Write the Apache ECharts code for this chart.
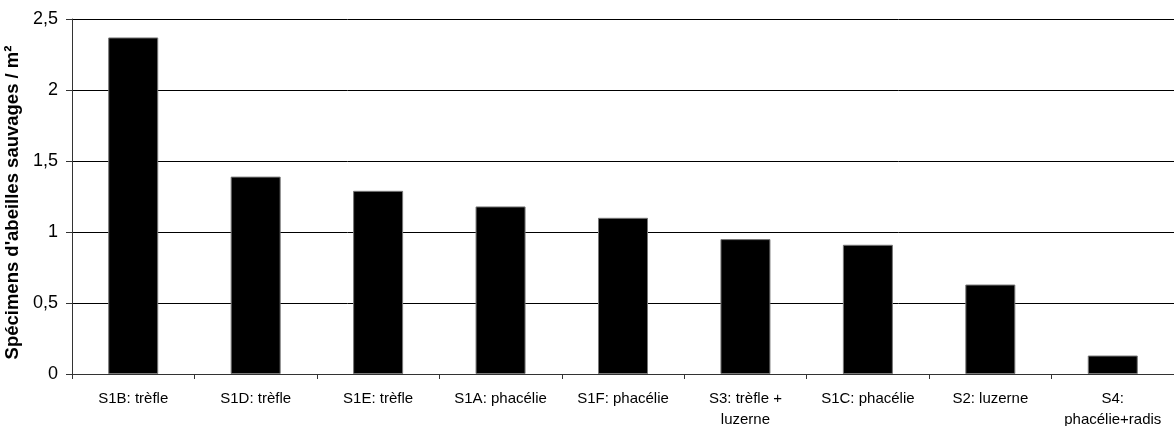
<!DOCTYPE html>
<html><head><meta charset="utf-8">
<script src="https://cdn.jsdelivr.net/npm/echarts@6/dist/echarts.min.js"></script>
<style>html,body{margin:0;padding:0;background:#fff}#c{width:1174px;height:426px}</style>
</head><body><div id="c"></div>
<script>
var categories = ["S1B: trèfle","S1D: trèfle","S1E: trèfle","S1A: phacélie","S1F: phacélie","S3: trèfle +\nluzerne","S1C: phacélie","S2: luzerne","S4:\nphacélie+radis"];
var values = [2.37, 1.39, 1.29, 1.18, 1.10, 0.95, 0.91, 0.63, 0.13];
var yTitle = "Spécimens d'abeilles sauvages / m²";
var chart = echarts.init(document.getElementById('c'));
chart.setOption({
  animation: false,
  grid: {left: 72, right: 0, top: 19, bottom: 52, containLabel: false, outerBoundsMode: 'none'},
  xAxis: {
    type: 'category', data: categories,
    axisLine: {lineStyle: {color: '#333', width: 1}},
    axisTick: {show: true, length: 5, lineStyle: {color: '#333'}},
    axisLabel: {color: '#000', fontFamily: 'Liberation Sans, Arial', fontSize: 15, margin: 14, lineHeight: 21, interval: 0}
  },
  yAxis: {
    type: 'value', min: 0, max: 2.5, interval: 0.5,
    name: yTitle, nameLocation: 'middle', nameGap: 40,
    nameTextStyle: {color: '#000', fontFamily: 'Liberation Sans, Arial', fontSize: 18.5, fontWeight: 'bold', padding: [0, 12, 0, 0]},
    axisLine: {show: true, lineStyle: {color: '#333', width: 1}},
    axisTick: {show: true, length: 6, lineStyle: {color: '#333'}},
    axisLabel: {color: '#000', fontFamily: 'Liberation Sans, Arial', fontSize: 18, margin: 14,
      formatter: function (v) { return String(v).replace('.', ','); }},
    splitLine: {show: true, lineStyle: {color: '#000', width: 1}}
  },
  series: [{
    type: 'bar', data: values, barWidth: 50,
    itemStyle: {color: '#000', borderColor: '#777', borderWidth: 1}
  }]
});
</script></body></html>
